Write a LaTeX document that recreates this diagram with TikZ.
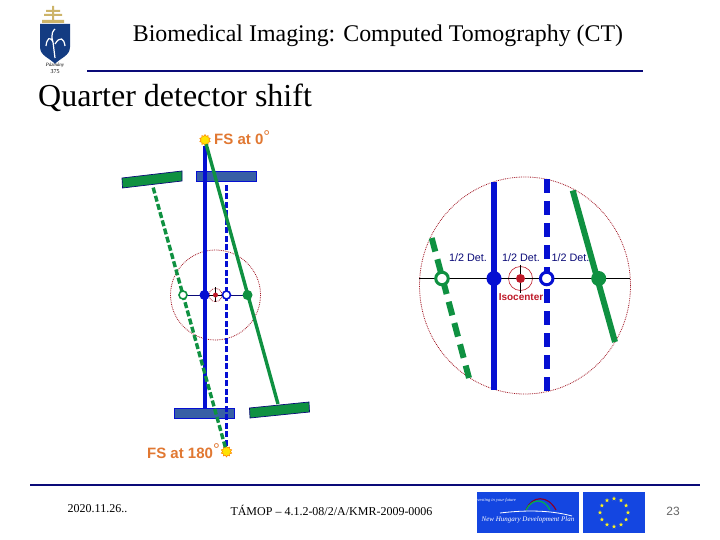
\documentclass[tikz,border=0pt]{standalone}
\usepackage{fontspec}
\setmainfont{Liberation Serif}
\setsansfont{Liberation Sans}
\usetikzlibrary{shapes.geometric}
\definecolor{navy}{RGB}{10,10,120}
\definecolor{bblue}{RGB}{5,15,210}
\definecolor{ggreen}{RGB}{15,145,65}
\definecolor{detblue}{RGB}{55,95,165}
\definecolor{fsorange}{RGB}{225,120,50}
\definecolor{ired}{RGB}{190,25,40}
\definecolor{logoblue}{RGB}{20,70,225}
\definecolor{shield}{RGB}{20,60,130}
\definecolor{gold}{RGB}{205,180,105}
\tikzset{
  x=1pt,y=-1pt,
  rule/.style={draw=navy,line width=2.8pt},
  thinc/.style={draw=ired!85!black,densely dotted,line width=.8pt},
  lbeam/.style={line width=3.4pt},
  ldash/.style={line width=3.4pt,dash pattern=on 6pt off 2.5pt},
  rbeam/.style={line width=6pt},
  rdash/.style={line width=6pt,dash pattern=on 14pt off 8pt},
  dotf/.style={circle,inner sep=0pt,minimum size=#1},
  src/.style={star,star points=10,star point ratio=1.4,inner sep=0pt,minimum size=11pt,fill=yellow!85!orange,draw=orange,line width=.5pt},
  fslabel/.style={font=\sffamily\bfseries\fontsize{15}{15}\selectfont,text=fsorange,inner sep=0pt},
  detlabel/.style={font=\sffamily\fontsize{10.8}{11}\selectfont,text=navy,inner sep=0pt},
  eustar/.style={star,star points=5,star point ratio=2.4,inner sep=0pt,minimum size=4.5pt,fill=yellow!90!white},
}
\begin{document}
\begin{tikzpicture}
\useasboundingbox[fill=white] (0,0) rectangle (720,540);
% header
\node[inner sep=0pt,font=\fontsize{23.9}{25}\selectfont] (title) at (378,35.5) {Biomedical Imaging: Computed Tomography (CT)};
\coordinate (ra) at (87,71); \coordinate (rb) at (643,71);
\draw[rule] (ra) -- (rb);
\node[anchor=west,inner sep=0pt,font=\fontsize{32}{33}\selectfont] (head) at (38,97.5) {Quarter detector shift};
% crest
\fill[gold] (52,6) rectangle (54,20) (46,10) rectangle (60,12) (44,14) rectangle (62,16) (42,20) rectangle (64,23);
\fill[shield] (40,24) -- (70,24) -- (70,47) .. controls (70,56) and (60,58) .. (55,64) .. controls (50,58) and (40,56) .. (40,47) -- cycle;
\draw[white,line width=1.2pt] (55,58) -- (53,42) (53,42) .. controls (50,36) and (47,38) .. (46,46) (53,42) .. controls (50,33) and (54,30) .. (55,29) (55,44) .. controls (60,36) and (64,38) .. (65,46);
\node[inner sep=0pt,font=\fontsize{5}{5}\selectfont\itshape] (motto) at (55,65.5) {Pázmány};
\node[inner sep=0pt,font=\fontsize{6}{6}\selectfont] (year) at (55,72) {375};
% left diagram
\coordinate (c) at (215.5,295);
\draw[thinc] (c) circle (45);
\draw[thinc] (c) circle (6.5);
\node[src] (fs0) at (205,140) {};
\node[src] (fs180) at (226.5,451.5) {};
\node[fslabel,anchor=base west] (lab0) at (214,145) {FS at 0\raisebox{.35ex}{\fontsize{17}{17}\mdseries\selectfont\textdegree}};
\node[fslabel,anchor=base east] (lab180) at (220,458) {FS at 180\raisebox{.35ex}{\fontsize{17}{17}\mdseries\selectfont\textdegree}};
\draw[fill=detblue,draw=bblue,line width=.7pt] (196,171) rectangle (256,181);
\draw[fill=detblue,draw=bblue,line width=.7pt] (174.5,408.5) rectangle (234.5,418.5);
\draw[fill=ggreen,draw=navy,line width=.7pt] (122,178) -- (182,171) -- (182,181) -- (122.5,188) -- cycle;
\draw[fill=ggreen,draw=navy,line width=.7pt] (249.5,408) -- (309,402) -- (309.5,412) -- (250,418) -- cycle;
\coordinate (gtop) at (153,187); \coordinate (gbot) at (278,404);
\coordinate (bdt) at (226.5,181); \coordinate (bs) at (205,408.5);
\draw[bblue,lbeam] (fs0) -- (bs);
\draw[bblue,ldash] (fs180) -- (bdt);
\draw[ggreen,lbeam] (fs0) -- (gbot);
\draw[ggreen,ldash] (fs180) -- (gtop);
\draw[navy,line width=.5pt] (183,295) -- (248,295);
\draw[black,line width=.6pt] (215.5,287) -- (215.5,302) (209,295) -- (222,295);
\node[dotf=5pt,fill=ired] (iso1) at (c) {};
\node[dotf=8pt,fill=white,draw=ggreen,line width=1.6pt] (g1) at (183,295) {};
\node[dotf=10pt,fill=bblue] (b1) at (204.5,295) {};
\node[dotf=8pt,fill=white,draw=bblue,line width=1.6pt] (b2) at (226.5,295) {};
\node[dotf=10pt,fill=ggreen] (g2) at (247.5,295) {};
% right diagram
\draw[thinc] (525,285.5) ellipse (105.5 and 108.5);
\coordinate (hl) at (419,278.5); \coordinate (hr) at (630,278.5);
\coordinate (rbt) at (494,182); \coordinate (rbb) at (494,390);
\coordinate (rdt) at (546.7,179); \coordinate (rdb) at (546.7,392);
\coordinate (rgt) at (572.7,190.5); \coordinate (rgb) at (615,342);
\coordinate (rht) at (431.7,238); \coordinate (rhb) at (469,378);
\draw[bblue,rbeam] (rbt) -- (rbb);
\draw[bblue,rdash] (rdt) -- (rdb);
\draw[ggreen,rbeam] (rgt) -- (rgb);
\draw[ggreen,rdash] (rht) -- (rhb);
\draw[black,line width=.9pt] (hl) -- (hr);
\coordinate (iso) at (520.5,278.5);
\draw[ired,line width=.6pt] (iso) circle (12);
\draw[black,line width=.7pt] (520.5,264.5) -- (520.5,292.5) (507,278.5) -- (534,278.5);
\node[dotf=9pt,fill=ired] (isod) at (iso) {};
\node[dotf=12.5pt,fill=white,draw=ggreen,line width=3pt] (rg1) at (442,278.5) {};
\node[dotf=15pt,fill=bblue] (rb1) at (494,278.5) {};
\node[dotf=12.5pt,fill=white,draw=bblue,line width=3pt] (rb2) at (546.7,278.5) {};
\node[dotf=15pt,fill=ggreen] (rg2) at (598.7,278.5) {};
\node[detlabel] (d1) at (468,258) {1/2 Det.};
\node[detlabel] (d2) at (521,258) {1/2 Det.};
\node[detlabel] (d3) at (570.5,258) {1/2 Det.};
\node[inner sep=0pt,font=\sffamily\bfseries\fontsize{10}{11}\selectfont,text=ired] (isol) at (521,297) {Isocenter};
% footer
\coordinate (fa) at (30,485); \coordinate (fb) at (700,485);
\draw[rule] (fa) -- (fb);
\node[inner sep=0pt,font=\fontsize{12}{13}\selectfont] (date) at (97.5,509) {2020.11.26..};
\node[inner sep=0pt,font=\fontsize{12}{13}\selectfont] (tamop) at (331.5,510) {TÁMOP – 4.1.2-08/2/A/KMR-2009-0006};
\node[inner sep=0pt,font=\sffamily\fontsize{12}{13}\selectfont,text=black!60] (pg) at (673,511.5) {23};
% logos
\fill[logoblue] (477,492) rectangle (579,533);
\fill[logoblue] (583,492) rectangle (645,533);
\node[inner sep=0pt,text=white,font=\fontsize{4.5}{5}\selectfont\itshape] (inv) at (495,500) {investing in your future};
\node[inner sep=0pt,text=white,font=\fontsize{7}{8}\selectfont\itshape] (nh) at (528,520) {New Hungary Development Plan};
\draw[purple!70!black,line width=1.2pt] (526,510) .. controls (532,495) and (548,495) .. (556,510);
\draw[green!70!blue,line width=1.2pt] (526,510) .. controls (532,498) and (544,498) .. (550,510);
\draw[white,line width=.8pt] (500,513) .. controls (525,510) and (550,510) .. (572,516);
\foreach \a in {0,30,...,330}{\node[eustar] at ({614+14*cos(\a)},{512.5+14*sin(\a)}) {};}
\end{tikzpicture}
\end{document}
